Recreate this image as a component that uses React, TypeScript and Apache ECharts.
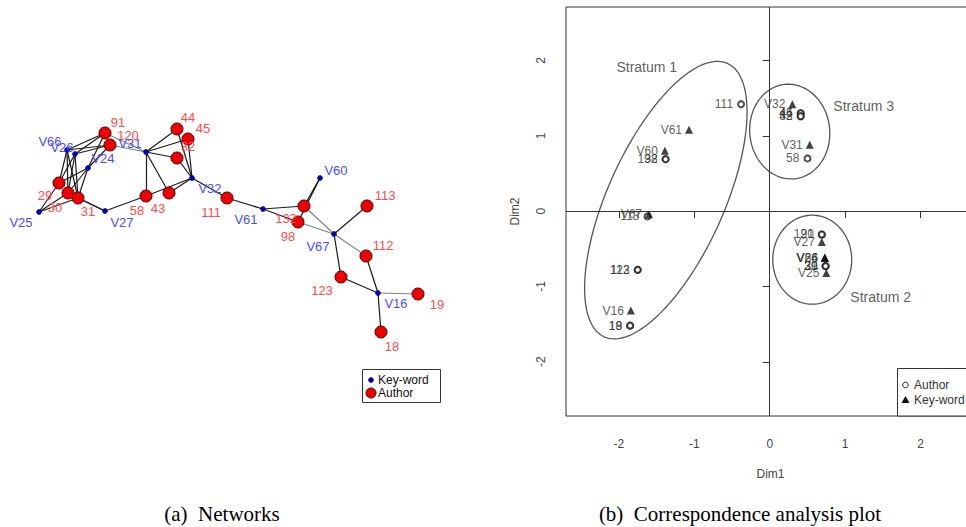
import React, { useEffect, useRef } from "react";
import * as echarts from "echarts";

// ---------------- (a) Network: layout positions of the nodes ----------------
const keywordNames = ["V66", "V26", "V24", "V25", "V27", "V31", "V32", "V61", "V60", "V67", "V16"];
const keywordLayoutX = [67, 75, 88, 39, 105, 146, 192, 263, 320, 334, 378];
const keywordLayoutY = [150, 154, 168, 212, 211, 152, 178, 209, 178, 234, 293];

const authorNames = ["91", "120", "29", "30", "31", "58", "43", "44", "45", "32", "111", "132", "98", "113", "112", "123", "19", "18"];
const authorLayoutX = [105, 110, 59, 68, 78, 146, 169, 177, 188, 177, 227, 304, 298, 367, 366, 341, 418, 381];
const authorLayoutY = [133, 145, 183, 193, 198, 196, 193, 129, 139, 158, 198, 206, 222, 206, 256, 277, 294, 332];

const darkEdges: [string, string][] = [
  ["29", "V66"], ["29", "V26"], ["29", "V24"], ["29", "V25"],
  ["30", "V66"], ["30", "V26"], ["30", "V24"], ["30", "V25"],
  ["31", "V66"], ["31", "V26"], ["31", "V24"], ["31", "V25"],
  ["91", "V66"], ["91", "V26"], ["91", "V24"],
  ["120", "V66"], ["120", "V26"], ["120", "V24"],
  ["30", "V27"], ["31", "V27"], ["58", "V27"],
  ["44", "V31"], ["45", "V31"], ["32", "V31"], ["58", "V31"], ["43", "V31"],
  ["44", "V32"], ["45", "V32"], ["32", "V32"], ["58", "V32"], ["43", "V32"],
  ["111", "V32"], ["111", "V61"], ["132", "V61"], ["98", "V61"],
  ["132", "V60"], ["98", "V60"], ["113", "V67"], ["123", "V67"],
  ["123", "V16"], ["112", "V16"], ["18", "V16"],
];
const greyEdges: [string, string][] = [
  ["91", "V31"], ["120", "V31"], ["132", "V67"], ["98", "V67"], ["112", "V67"], ["19", "V16"],
];

// label placement (style) for the network nodes: [dx, dy] from node centre
const NET_LABEL_OFFSET: Record<string, [number, number]> = {
  V66: [-17, -9], V26: [-13, -7], V24: [15, -10], V25: [-18, 10], V27: [17, 11], V31: [-16, -9],
  V32: [18, 10], V61: [-17, 10], V60: [16, -8], V67: [-16, 12], V16: [18, 10],
  "91": [13, -11], "120": [18, -10], "29": [-14, 12], "30": [-13, 14], "31": [10, 13], "58": [-9, 14],
  "43": [-11, 15], "44": [11, -12], "45": [15, -11], "32": [11, -12], "111": [-16, 14], "132": [-18, 12],
  "98": [-10, 14], "113": [18, -11], "112": [17, -11], "123": [-19, 13], "19": [19, 10], "18": [11, 14],
};

// ---------------- (b) Correspondence analysis coordinates ----------------
const caAuthorNames = ["111", "132", "98", "113", "123", "112", "18", "19", "44", "45", "32", "43", "58", "91", "120", "29", "30", "31"];
const caAuthorDim1 = [-0.38, -1.38, -1.38, -1.62, -1.75, -1.75, -1.85, -1.85, 0.41, 0.41, 0.41, 0.41, 0.50, 0.69, 0.69, 0.74, 0.74, 0.74];
const caAuthorDim2 = [1.42, 0.69, 0.69, -0.07, -0.78, -0.78, -1.52, -1.52, 1.30, 1.30, 1.26, 1.26, 0.70, -0.31, -0.31, -0.73, -0.73, -0.73];

const caKeywordNames = ["V61", "V60", "V67", "V16", "V32", "V31", "V27", "V66", "V26", "V24", "V25"];
const caKeywordDim1 = [-1.07, -1.39, -1.60, -1.84, 0.30, 0.53, 0.69, 0.73, 0.73, 0.73, 0.75];
const caKeywordDim2 = [1.08, 0.80, -0.04, -1.32, 1.42, 0.88, -0.41, -0.62, -0.62, -0.62, -0.82];

const strataNames = ["Stratum 1", "Stratum 2", "Stratum 3"];
const strataCentreX = [-1.377, 0.563, 0.265];
const strataCentreY = [0.146, -0.645, 1.056];
const strataSemiA = [1.99, 0.591, 0.63];
const strataSemiB = [0.77, 0.523, 0.53];
const strataAngle = [65.8, 90, 96];
const strataLabelX = [-1.63, 1.47, 1.245];
const strataLabelY = [1.91, -1.14, 1.395];

const dimTicks = [-2, -1, 0, 1, 2];

const SANS = "'Liberation Sans', Arial, sans-serif";
const SERIF = "'Liberation Serif', 'Times New Roman', serif";

export default function App() {
  const ref = useRef<HTMLDivElement>(null);

  useEffect(() => {
    if (!ref.current) return;
    const chart = echarts.init(ref.current, null, { renderer: "svg" });

    const pos: Record<string, [number, number]> = {};
    keywordNames.forEach((n, i) => (pos[n] = [keywordLayoutX[i], keywordLayoutY[i]]));
    authorNames.forEach((n, i) => (pos[n] = [authorLayoutX[i], authorLayoutY[i]]));
    const toLines = (edges: [string, string][]) => edges.map(([a, b]) => ({ coords: [pos[a], pos[b]] }));

    const netNode = (names: string[], xs: number[], ys: number[]) =>
      names.map((n, i) => ({
        name: n,
        value: [xs[i], ys[i]],
        label: { offset: NET_LABEL_OFFSET[n] || [0, 0] },
      }));

    const option: any = {
      animation: false,
      backgroundColor: "#ffffff",
      textStyle: { fontFamily: SANS },
      grid: [
        { left: 0, top: 0, width: 480, height: 527, show: false },
        { left: 566, top: 7, width: 409, height: 409, show: true, borderColor: "#333", borderWidth: 1, backgroundColor: "#fff" },
      ],
      xAxis: [
        { gridIndex: 0, type: "value", min: 0, max: 480, show: false },
        {
          gridIndex: 1, type: "value", min: -2.7, max: 2.72,
          splitLine: { show: false }, axisLine: { show: false },
          axisTick: { show: true, inside: false, length: 7, customValues: dimTicks, lineStyle: { color: "#333" } },
          axisLabel: { customValues: dimTicks, fontSize: 12, color: "#444", margin: 22, fontFamily: SANS },
          name: "Dim1", nameLocation: "middle", nameGap: 52,
          nameTextStyle: { fontSize: 12, color: "#444", fontFamily: SANS },
        },
      ],
      yAxis: [
        { gridIndex: 0, type: "value", min: 0, max: 527, inverse: true, show: false },
        {
          gridIndex: 1, type: "value", min: -2.72, max: 2.71,
          splitLine: { show: false }, axisLine: { show: false },
          axisTick: { show: true, inside: false, length: 7, customValues: dimTicks, lineStyle: { color: "#333" } },
          axisLabel: { customValues: dimTicks, fontSize: 12, color: "#444", margin: 19, rotate: 90, fontFamily: SANS },
          name: "Dim2", nameLocation: "middle", nameGap: 45,
          nameTextStyle: { fontSize: 12, color: "#444", fontFamily: SANS },
        },
      ],
      series: [
        {
          type: "lines", coordinateSystem: "cartesian2d", xAxisIndex: 0, yAxisIndex: 0,
          data: toLines(greyEdges), silent: true,
          lineStyle: { color: "#808080", width: 1.1, opacity: 1 }, z: 1,
        },
        {
          type: "lines", coordinateSystem: "cartesian2d", xAxisIndex: 0, yAxisIndex: 0,
          data: toLines(darkEdges), silent: true,
          lineStyle: { color: "#1a1a1a", width: 1.2, opacity: 1 }, z: 2,
        },
        {
          name: "Author-net", type: "scatter", xAxisIndex: 0, yAxisIndex: 0, z: 3,
          symbol: "circle", symbolSize: 12,
          itemStyle: { color: "#ee0000", borderColor: "#500000", borderWidth: 1, opacity: 1 },
          label: {
            show: true, position: "inside", formatter: "{b}", color: "#ff4a4a",
            fontSize: 13, fontFamily: SANS, align: "center", verticalAlign: "middle",
          },
          data: netNode(authorNames, authorLayoutX, authorLayoutY),
        },
        {
          name: "Keyword-net", type: "scatter", xAxisIndex: 0, yAxisIndex: 0, z: 4,
          symbol: "circle", symbolSize: 5,
          itemStyle: { color: "#0000cc", borderColor: "#000050", borderWidth: 0.6, opacity: 1 },
          label: {
            show: true, position: "inside", formatter: "{b}", color: "#4a4aff",
            fontSize: 13, fontFamily: SANS, align: "center", verticalAlign: "middle",
          },
          data: netNode(keywordNames, keywordLayoutX, keywordLayoutY),
        },
        {
          type: "custom", xAxisIndex: 1, yAxisIndex: 1, silent: true,
          encode: { x: 0, y: 1 },
          data: strataNames.map((_, i) => [strataCentreX[i], strataCentreY[i], strataSemiA[i], strataSemiB[i], strataAngle[i]]),
          renderItem: (params: any, api: any) => {
            const cx = api.value(0), cy = api.value(1), a = api.value(2), b = api.value(3);
            const ang = (api.value(4) * Math.PI) / 180;
            const pts: number[][] = [];
            for (let k = 0; k <= 160; k++) {
              const t = (k / 160) * Math.PI * 2;
              const x = cx + a * Math.cos(ang) * Math.cos(t) - b * Math.sin(ang) * Math.sin(t);
              const y = cy + a * Math.sin(ang) * Math.cos(t) + b * Math.cos(ang) * Math.sin(t);
              pts.push(api.coord([x, y]));
            }
            return { type: "polyline", shape: { points: pts }, style: { fill: "none", stroke: "#555", lineWidth: 1.3 } };
          },
        },
        {
          name: "Strata", type: "scatter", xAxisIndex: 1, yAxisIndex: 1, silent: true,
          symbolSize: 0,
          label: { show: true, position: "inside", formatter: "{b}", fontSize: 14, color: "#333", fontFamily: SANS },
          data: strataNames.map((n, i) => ({ name: n, value: [strataLabelX[i], strataLabelY[i]] })),
          markLine: {
            silent: true, symbol: ["none", "none"], label: { show: false },
            lineStyle: { color: "#333", type: "solid", width: 1 },
            data: [{ xAxis: 0 }, { yAxis: 0 }],
          },
        },
        {
          name: "Author", type: "scatter", xAxisIndex: 1, yAxisIndex: 1,
          symbol: "emptyCircle", symbolSize: 6,
          itemStyle: { color: "#222", borderColor: "#222", borderWidth: 1 },
          label: { show: true, position: "left", distance: 4, formatter: "{b}", fontSize: 12, color: "#333", fontFamily: SANS },
          data: caAuthorNames.map((n, i) => ({ name: n, value: [caAuthorDim1[i], caAuthorDim2[i]] })),
        },
        {
          name: "Key-word", type: "scatter", xAxisIndex: 1, yAxisIndex: 1,
          symbol: "triangle", symbolSize: 8,
          itemStyle: { color: "#111" },
          label: { show: true, position: "left", distance: 3, formatter: "{b}", fontSize: 12, color: "#333", fontFamily: SANS },
          data: caKeywordNames.map((n, i) => ({ name: n, value: [caKeywordDim1[i], caKeywordDim2[i]] })),
        },
      ],
      graphic: [
        // legend of the network
        { type: "rect", shape: { x: 362.5, y: 369.5, width: 78, height: 33 }, style: { fill: "#fff", stroke: "#333", lineWidth: 1 }, z: 10 },
        { type: "circle", shape: { cx: 371, cy: 380, r: 2.5 }, style: { fill: "#0000cc", stroke: "#000050", lineWidth: 0.6 }, z: 11 },
        { type: "text", x: 378, y: 380, style: { text: "Key-word", fontSize: 12, fontFamily: SANS, fill: "#111", verticalAlign: "middle" }, z: 11 },
        { type: "circle", shape: { cx: 371, cy: 393, r: 5 }, style: { fill: "#ee0000", stroke: "#500000", lineWidth: 1 }, z: 11 },
        { type: "text", x: 378, y: 393, style: { text: "Author", fontSize: 12, fontFamily: SANS, fill: "#111", verticalAlign: "middle" }, z: 11 },
        // legend of the CA plot
        { type: "rect", shape: { x: 897.5, y: 368.5, width: 100, height: 47.5 }, style: { fill: "#fff", stroke: "#333", lineWidth: 1 }, z: 10 },
        { type: "circle", shape: { cx: 905.5, cy: 385, r: 2.8 }, style: { fill: "#fff", stroke: "#222", lineWidth: 1 }, z: 11 },
        { type: "text", x: 914, y: 385, style: { text: "Author", fontSize: 12, fontFamily: SANS, fill: "#333", verticalAlign: "middle" }, z: 11 },
        { type: "polygon", shape: { points: [[905.5, 396], [909.5, 403], [901.5, 403]] }, style: { fill: "#111" }, z: 11 },
        { type: "text", x: 914, y: 400, style: { text: "Key-word", fontSize: 12, fontFamily: SANS, fill: "#333", verticalAlign: "middle" }, z: 11 },
        // captions
        { type: "text", x: 222, y: 514, style: { text: "(a)\u2002Networks", fontSize: 21, fontFamily: SERIF, fill: "#000", align: "center", verticalAlign: "middle" } },
        { type: "text", x: 740, y: 514, style: { text: "(b)\u2002Correspondence analysis plot", fontSize: 21, fontFamily: SERIF, fill: "#000", align: "center", verticalAlign: "middle" } },
      ],
    };

    chart.setOption(option);
    return () => chart.dispose();
  }, []);

  return (
    <div
      ref={ref}
      style={{ position: "fixed", left: 0, top: 0, width: 990, height: 527, background: "#fff" }}
    />
  );
}
